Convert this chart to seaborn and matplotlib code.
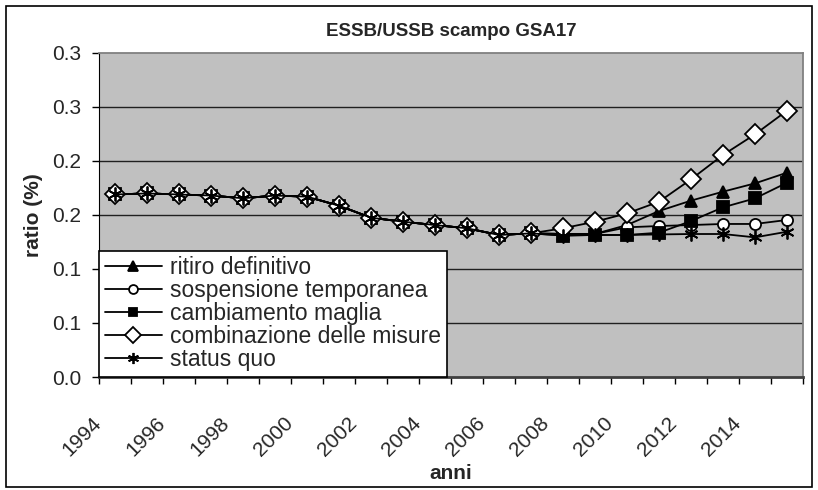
import matplotlib
matplotlib.use('Agg')
import matplotlib.pyplot as plt
import matplotlib.transforms as mtransforms
import seaborn as sns
import numpy as np
import pandas as pd
from matplotlib.patches import Rectangle

# data
anni = list(range(1994, 2016))
ritiro_definitivo = [0.169, 0.170, 0.169, 0.168, 0.1655, 0.168, 0.167, 0.1586, 0.1475, 0.1438, 0.1407,
                     0.1377, 0.1315, 0.133, 0.1325, 0.1325, 0.1407, 0.1537, 0.1633, 0.1716, 0.1793, 0.1892]
sospensione_temporanea = [0.169, 0.170, 0.169, 0.168, 0.1655, 0.168, 0.167, 0.1586, 0.1475, 0.1438, 0.1407,
                          0.1377, 0.1315, 0.133, 0.1325, 0.1325, 0.1386, 0.1398, 0.1407, 0.1417, 0.1417, 0.1454]
cambiamento_maglia = [0.169, 0.170, 0.169, 0.168, 0.1655, 0.168, 0.167, 0.1586, 0.1475, 0.1438, 0.1407,
                      0.1377, 0.1315, 0.133, 0.1310, 0.1315, 0.1315, 0.1336, 0.1444, 0.1571, 0.1654, 0.1799]
combinazione_misure = [0.169, 0.170, 0.169, 0.168, 0.1655, 0.168, 0.167, 0.1586, 0.1475, 0.1438, 0.1407,
                       0.1377, 0.1315, 0.133, 0.1377, 0.1438, 0.1515, 0.1623, 0.183, 0.2056, 0.2247, 0.2466]
status_quo = [0.169, 0.170, 0.169, 0.168, 0.1655, 0.168, 0.167, 0.1586, 0.1475, 0.1438, 0.1407,
              0.1377, 0.1315, 0.133, 0.1310, 0.1315, 0.1315, 0.1320, 0.1324, 0.1324, 0.1293, 0.1345]

serie_labels = ['ritiro definitivo', 'sospensione temporanea', 'cambiamento maglia',
                'combinazione delle misure', 'status quo']
yticks = [0.0, 0.05, 0.10, 0.15, 0.20, 0.25, 0.30]
ytick_labels = ['0.0', '0.1', '0.1', '0.2', '0.2', '0.3', '0.3']
xtick_labels = [str(a) for a in anni[::2]]

sns.set_style('white')
plt.rcParams['font.family'] = 'Liberation Sans'

fig = plt.figure(figsize=(8.18, 4.9), dpi=100)
ax = fig.add_axes([99 / 818, 1 - 377 / 490, (803 - 99) / 818, (377 - 53) / 490])
ax.set_facecolor('#C0C0C0')

idx = np.arange(len(anni))
df = pd.DataFrame({'idx': idx, 'ritiro definitivo': ritiro_definitivo,
                   'sospensione temporanea': sospensione_temporanea,
                   'cambiamento maglia': cambiamento_maglia,
                   'combinazione delle misure': combinazione_misure,
                   'status quo': status_quo})

styles = {
    'ritiro definitivo': dict(marker='^', markersize=9, markerfacecolor='black', markeredgecolor='black'),
    'sospensione temporanea': dict(marker='o', markersize=8, markerfacecolor='white', markeredgecolor='black'),
    'cambiamento maglia': dict(marker='s', markersize=8, markerfacecolor='black', markeredgecolor='black'),
    'combinazione delle misure': dict(marker='D', markersize=10, markerfacecolor='white', markeredgecolor='black'),
    'status quo': dict(marker=(6, 2, 0), markersize=10, markerfacecolor='black', markeredgecolor='black'),
}

# horizontal gridlines
for yv in yticks[1:-1]:
    ax.axhline(yv, color='#202020', linewidth=1.0, zorder=1)

for i, name in enumerate(serie_labels):
    sns.lineplot(data=df, x='idx', y=name, ax=ax, color='black', linewidth=1.3,
                 markeredgewidth=1.3, label=name, zorder=3 + i, **styles[name])

ax.set_xlim(-0.5, len(anni) - 0.5)
ax.set_ylim(0, 0.3)
ax.set_yticks(yticks)
ax.set_yticklabels(ytick_labels, fontsize=15)
ax.set_xticks(idx[::2])
ax.set_xticklabels(xtick_labels, rotation=45, ha='right', va='center', fontsize=15,
                   rotation_mode='anchor')
ax.set_xticks(np.arange(-0.5, len(anni)), minor=True)
ax.tick_params(axis='x', which='major', length=0, pad=31)
ax.tick_params(axis='x', which='minor', length=5, width=1, color='black', direction='out', bottom=True)
ax.tick_params(axis='y', which='major', length=5, width=1, color='black', direction='out', left=True, pad=8)

# excel places the rotated year labels a bit left of the category centre
shift = mtransforms.ScaledTranslation(-12 / 72, 0, fig.dpi_scale_trans)
for lbl in ax.get_xticklabels():
    lbl.set_transform(lbl.get_transform() + shift)

for s in ['top', 'right']:
    ax.spines[s].set_color('#808080')
    ax.spines[s].set_linewidth(1.3)
ax.spines['left'].set_color('black')
ax.spines['bottom'].set_color('#404040')
ax.spines['bottom'].set_linewidth(2)

ax.set_title('ESSB/USSB scampo GSA17', fontsize=13.5, fontweight='bold', pad=12)
ax.set_ylabel('ratio (%)', fontsize=15, fontweight='bold', labelpad=6)
ax.set_xlabel('anni', fontsize=15, fontweight='bold', labelpad=3)

leg = ax.legend(loc='lower left', bbox_to_anchor=(0, 0), borderaxespad=0, fontsize=16.5,
                frameon=True, fancybox=False, edgecolor='black', facecolor='white', framealpha=1,
                handlelength=2.5, labelspacing=0.0, handletextpad=0.35, borderpad=0.25,
                markerscale=0.8)
leg.get_frame().set_linewidth(1.2)
leg.set_zorder(20)

# outer chart border
fig.patches.append(Rectangle((6 / 818, 3 / 490), 806 / 818, 481 / 490, transform=fig.transFigure,
                             fill=False, edgecolor='black', linewidth=1.2))

fig.savefig('out.png', dpi=100)
